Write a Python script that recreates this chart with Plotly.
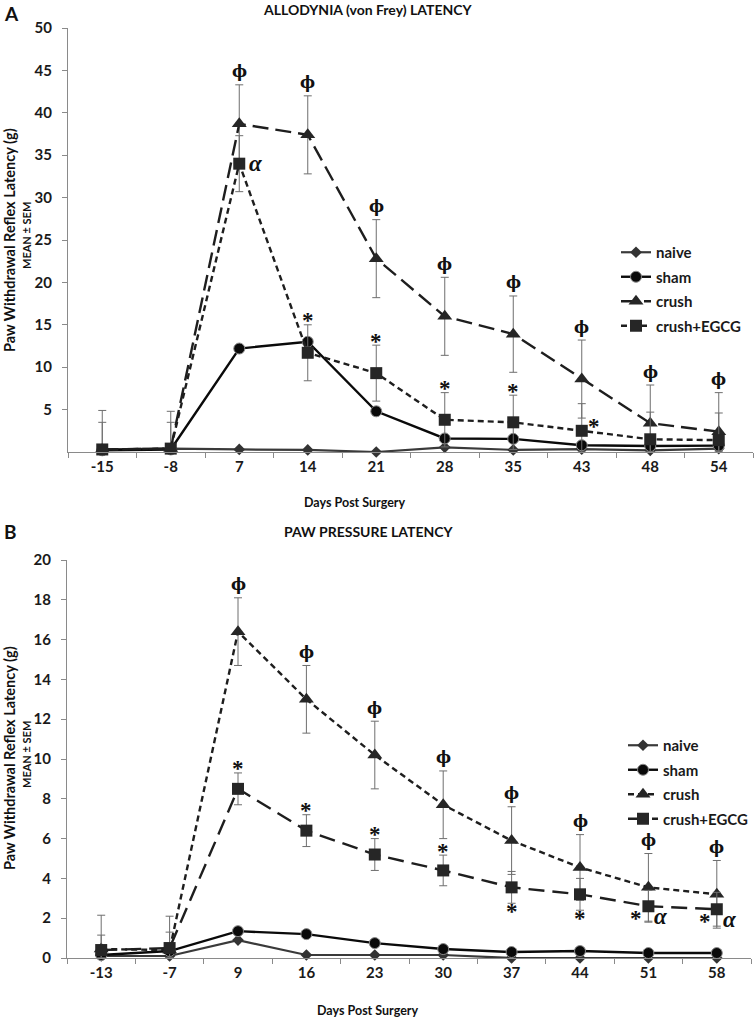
import plotly.graph_objects as go

# ---------------- data ----------------
days_a = ["-15", "-8", "7", "14", "21", "28", "35", "43", "48", "54"]
naive_a = [0.3, 0.4, 0.3, 0.25, 0.0, 0.55, 0.25, 0.35, 0.2, 0.4]
sham_a = [0.2, 0.3, 12.2, 13.0, 4.8, 1.6, 1.55, 0.8, 0.7, 0.75]
crush_a = [0.3, 0.4, 38.7, 37.4, 22.8, 16.0, 13.9, 8.6, 3.4, 2.4]
crush_err_a = [4.6, 4.4, 4.6, 4.6, 4.6, 4.6, 4.5, 4.6, 4.5, 4.6]
egcg_a = [0.3, 0.4, 34.0, 11.7, 9.3, 3.8, 3.5, 2.5, 1.5, 1.4]
egcg_err_a = [3.2, 3.1, 3.3, 3.3, 3.3, 3.2, 3.2, 3.2, 3.2, 3.2]

days_b = ["-13", "-7", "9", "16", "23", "30", "37", "44", "51", "58"]
naive_b = [0.1, 0.1, 0.9, 0.15, 0.15, 0.15, 0.0, 0.0, 0.0, 0.0]
sham_b = [0.15, 0.35, 1.35, 1.2, 0.75, 0.45, 0.3, 0.35, 0.25, 0.25]
crush_b = [0.45, 0.4, 16.4, 13.0, 10.2, 7.7, 5.9, 4.55, 3.55, 3.2]
crush_err_b = [1.7, 1.7, 1.7, 1.7, 1.7, 1.7, 1.7, 1.65, 1.7, 1.7]
egcg_b = [0.4, 0.5, 8.5, 6.4, 5.2, 4.4, 3.55, 3.2, 2.6, 2.45]
egcg_err_b = [0.75, 0.8, 0.8, 0.8, 0.8, 0.77, 0.8, 0.8, 0.8, 0.85]

# significance marks (indices into the day lists)
phi_a = [2, 3, 4, 5, 6, 7, 8, 9]
star_above_a = [3, 4, 5, 6]
star_right_a = [7]
alpha_a = [2]
phi_b = [2, 3, 4, 5, 6, 7, 8, 9]
star_above_b = [2, 3, 4, 5]
star_below_b = [6, 7]
star_left_b = [8, 9]
alpha_b = [8, 9]

W, H = 756, 1019
FONT = "Lato"
INK = "#1e1e1e"
AXC = "#8a8a8a"
ERRC = "#6e6e6e"

fig = go.Figure()


def minus(vals, errs):
    return [min(e, v) for v, e in zip(vals, errs)]


def add_panel(days, naive, sham, crush, crush_err, egcg, egcg_err,
              xa, ya, leg, crush_dash, egcg_dash):
    fig.add_trace(go.Scatter(
        x=days, y=naive, name="naive", mode="lines+markers",
        line=dict(color="#3a3a3a", width=2.2),
        marker=dict(symbol="diamond", size=9, color="#333333"),
        xaxis=xa, yaxis=ya, legend=leg, legendgroup=leg + "n", cliponaxis=False))
    fig.add_trace(go.Scatter(
        x=days, y=sham, name="sham", mode="lines+markers",
        line=dict(color="#0a0a0a", width=2.4),
        marker=dict(symbol="circle", size=11, color="#0a0a0a",
                    line=dict(color="#8a8a8a", width=1)),
        xaxis=xa, yaxis=ya, legend=leg, legendgroup=leg + "s", cliponaxis=False))
    fig.add_trace(go.Scatter(
        x=days, y=crush, name="crush", mode="lines+markers",
        line=dict(color=INK, width=2.4, dash=crush_dash),
        marker=dict(symbol="triangle-up", size=13, color="#262626"),
        error_y=dict(type="data", array=crush_err, arrayminus=minus(crush, crush_err),
                     color=ERRC, thickness=1, width=4),
        xaxis=xa, yaxis=ya, legend=leg, legendgroup=leg + "c", cliponaxis=False))
    fig.add_trace(go.Scatter(
        x=days, y=egcg, name="crush+EGCG", mode="lines+markers",
        line=dict(color=INK, width=2.4, dash=egcg_dash),
        marker=dict(symbol="square", size=12, color="#262626"),
        error_y=dict(type="data", array=egcg_err, arrayminus=minus(egcg, egcg_err),
                     color=ERRC, thickness=1, width=4),
        xaxis=xa, yaxis=ya, legend=leg, legendgroup=leg + "e", cliponaxis=False))


add_panel(days_a, naive_a, sham_a, crush_a, crush_err_a, egcg_a, egcg_err_a,
          "x", "y", "legend", "16px,7px", "6px,4px")
add_panel(days_b, naive_b, sham_b, crush_b, crush_err_b, egcg_b, egcg_err_b,
          "x2", "y2", "legend2", "6px,4px", "16px,8px")

tickfont = dict(family=FONT, size=15, color="#1a1a1a", weight="bold")


def xaxis_cfg(domain, anchor, cats):
    return dict(domain=domain, anchor=anchor, type="category",
                categoryorder="array", categoryarray=cats,
                range=[-0.5, len(cats) - 0.5], tickson="boundaries",
                ticks="outside", ticklen=5, tickcolor=AXC, showline=True,
                linecolor=AXC, linewidth=1, showgrid=False, zeroline=False,
                tickfont=tickfont, ticklabelstandoff=1, fixedrange=True,
                automargin=False)


def yaxis_cfg(domain, anchor, rng, dtick, start):
    vals = []
    v = start
    while v <= rng[1] + 1e-9:
        vals.append(v)
        v += dtick
    return dict(domain=domain, anchor=anchor, range=rng, tickvals=vals,
                ticktext=[str(int(t)) for t in vals],
                ticks="outside", ticklen=5, tickcolor=AXC, showline=True,
                linecolor=AXC, linewidth=1, showgrid=False, zeroline=False,
                tickfont=tickfont, ticklabelstandoff=7, fixedrange=True,
                automargin=False)


xd = [68 / W, 753 / W]
xd2 = [67 / W, 751 / W]
legfont = dict(family=FONT, size=15, color="#1a1a1a", weight="bold")
fig.update_layout(
    width=W, height=H, margin=dict(l=0, r=0, t=0, b=0, autoexpand=False),
    paper_bgcolor="white", plot_bgcolor="white", showlegend=True,
    xaxis=xaxis_cfg(xd, "y", days_a),
    yaxis=yaxis_cfg([1 - 452 / H, 1 - 28 / H], "x", [0, 50], 5, 5),
    xaxis2=xaxis_cfg(xd2, "y2", days_b),
    yaxis2=yaxis_cfg([1 - 958 / H, 1 - 560 / H], "x2", [0, 20], 2, 0),
    legend=dict(x=616 / W, y=1 - 236 / H, xanchor="left", yanchor="top",
                font=legfont, itemwidth=30, tracegroupgap=2,
                bgcolor="rgba(0,0,0,0)"),
    legend2=dict(x=623 / W, y=1 - 729 / H, xanchor="left", yanchor="top",
                 font=legfont, itemwidth=30, tracegroupgap=2,
                 bgcolor="rgba(0,0,0,0)"),
)

ann = []


def paper_text(x, y, text, size, angle=0, xanchor="center"):
    ann.append(dict(x=x / W, y=1 - y / H, xref="paper", yref="paper", text=text,
                    showarrow=False, textangle=angle, xanchor=xanchor, yanchor="middle",
                    font=dict(family=FONT, size=size, color="#111111", weight="bold")))


paper_text(11, 13, "A", 19)
paper_text(367, 10, "ALLODYNIA (von Frey) LATENCY", 14)
paper_text(355, 503, "Days Post Surgery", 12.5)
paper_text(9, 240, "Paw Withdrawal Reflex Latency (g)", 14.5, -90)
paper_text(26, 236, "MEAN ± SEM", 11, -90)

paper_text(10, 531, "B", 19)
paper_text(368, 531, "PAW PRESSURE LATENCY", 14)
paper_text(368, 1010, "Days Post Surgery", 12.5)
paper_text(9, 758, "Paw Withdrawal Reflex Latency (g)", 14.5, -90)
paper_text(26, 755, "MEAN ± SEM", 11, -90)


def mark(xa, ya, i, y, text, size, dx=0, dy=0, family="DejaVu Serif"):
    ann.append(dict(x=i, y=y, xref=xa, yref=ya, text=text, showarrow=False,
                    xanchor="center", yanchor="middle", xshift=dx, yshift=dy,
                    font=dict(family=family, size=size, color="#111111",
                              weight="bold")))


PHI = "ϕ"
STAR = "Liberation Serif"
for i in phi_a:
    mark("x", "y", i, crush_a[i] + crush_err_a[i], PHI, 16, 0, 13)
for i in star_above_a:
    mark("x", "y", i, egcg_a[i] + egcg_err_a[i], "*", 23, 0, 4, STAR)
for i in star_right_a:
    mark("x", "y", i, egcg_a[i], "*", 23, 12, 4, STAR)
for i in alpha_a:
    mark("x", "y", i, egcg_a[i], "<i>α</i>", 23, 17, 0, STAR)

for i in phi_b:
    mark("x2", "y2", i, crush_b[i] + crush_err_b[i], PHI, 16, 0, 13)
for i in star_above_b:
    mark("x2", "y2", i, egcg_b[i] + egcg_err_b[i], "*", 23, 0, 4, STAR)
for i in star_below_b:
    mark("x2", "y2", i, egcg_b[i] - egcg_err_b[i], "*", 23, 0, -8, STAR)
for i in star_left_b:
    mark("x2", "y2", i, egcg_b[i], "*", 23, -12, -12, STAR)
for i in alpha_b:
    mark("x2", "y2", i, egcg_b[i], "<i>α</i>", 23, 13, -10, STAR)

fig.update_layout(annotations=ann)
fig.write_html(
    "out.html",
    config={"displayModeBar": False},
    post_script="document.body.style.margin='0';document.body.style.padding='0';"
                "document.body.style.overflow='hidden';",
)
